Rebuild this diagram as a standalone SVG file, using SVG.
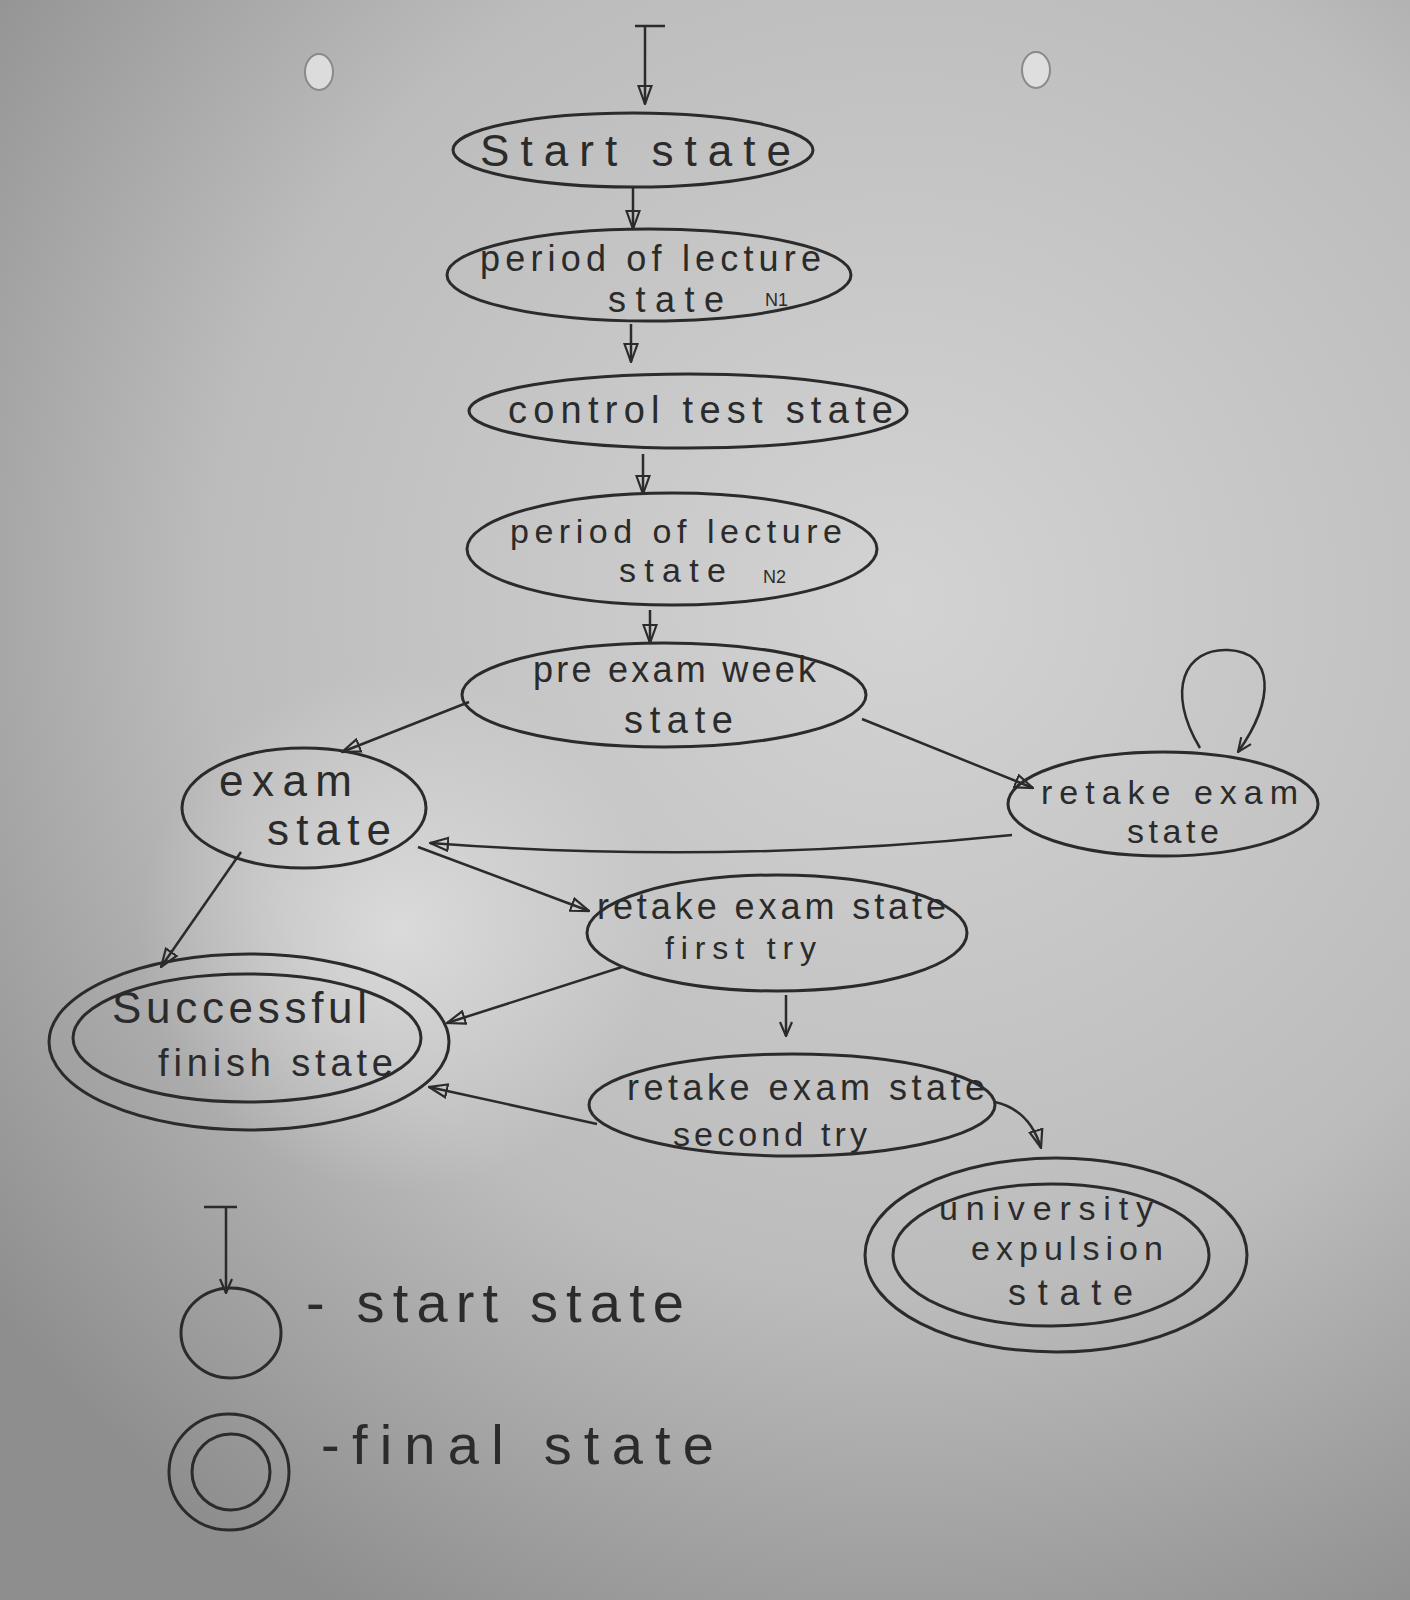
<svg xmlns="http://www.w3.org/2000/svg" width="1410" height="1600" viewBox="0 0 1410 1600">
<defs>
<radialGradient id="bg" cx="900" cy="600" r="1150" gradientUnits="userSpaceOnUse">
<stop offset="0" stop-color="#d3d3d3"/>
<stop offset="0.6" stop-color="#bcbcbc"/>
<stop offset="1" stop-color="#8e8e8e"/>
</radialGradient>
<radialGradient id="glare" cx="400" cy="930" r="260" gradientUnits="userSpaceOnUse">
<stop offset="0" stop-color="#e6e6e6" stop-opacity="0.7"/>
<stop offset="1" stop-color="#e6e6e6" stop-opacity="0"/>
</radialGradient>
<marker id="arr" viewBox="0 0 20 16" refX="19" refY="8" markerWidth="20" markerHeight="16" markerUnits="userSpaceOnUse" orient="auto">
<path d="M1,1.5 L19,8 L1,14.5 z" fill="none" stroke="#2b2b2b" stroke-width="2.2"/>
</marker>
<marker id="vee" viewBox="0 0 16 14" refX="15" refY="7" markerWidth="16" markerHeight="14" markerUnits="userSpaceOnUse" orient="auto">
<path d="M1,1 L15,7 L1,13" fill="none" stroke="#2b2b2b" stroke-width="2.2"/>
</marker>
</defs>
<style>
.st{fill:none;stroke:#2b2b2b;stroke-width:3}
.ln{fill:none;stroke:#2b2b2b;stroke-width:2.5}
.t{font-family:"Liberation Sans","DejaVu Sans",sans-serif;fill:#2b2b2b;font-size:38px}
.s{font-size:18px}
.lg{font-size:56px}
</style>
<rect x="0" y="0" width="1410" height="1600" fill="url(#bg)"/>
<rect x="0" y="0" width="1410" height="1600" fill="url(#glare)"/>
<g id="pins">
<ellipse cx="319" cy="72" rx="14" ry="18" fill="#dcdcdc" stroke="#8a8a8a" stroke-width="2"/>
<ellipse cx="1036" cy="70" rx="14" ry="18" fill="#dedede" stroke="#8a8a8a" stroke-width="2"/>
</g>

<g id="connectors">
<line class="ln" x1="635" y1="26" x2="665" y2="26"/>
<line class="ln" x1="645" y1="26" x2="645" y2="104" marker-end="url(#arr)"/>
<line class="ln" x1="633" y1="187" x2="633" y2="229" marker-end="url(#arr)"/>
<line class="ln" x1="631" y1="324" x2="631" y2="362" marker-end="url(#arr)"/>
<line class="ln" x1="643" y1="454" x2="643" y2="494" marker-end="url(#arr)"/>
<line class="ln" x1="650" y1="610" x2="650" y2="643" marker-end="url(#arr)"/>
<line class="ln" x1="469" y1="702" x2="342" y2="752" marker-end="url(#arr)"/>
<line class="ln" x1="862" y1="719" x2="1033" y2="788" marker-end="url(#arr)"/>
<path class="ln" d="M1012,835 Q720,865 430,843" marker-end="url(#arr)"/>
<path class="ln" d="M1200,748 C1165,690 1185,648 1228,650 C1275,652 1275,700 1238,752" marker-end="url(#vee)"/>
<line class="ln" x1="418" y1="847" x2="589" y2="911" marker-end="url(#arr)"/>
<line class="ln" x1="241" y1="852" x2="161" y2="967" marker-end="url(#arr)"/>
<line class="ln" x1="622" y1="967" x2="447" y2="1023" marker-end="url(#arr)"/>
<line class="ln" x1="786" y1="995" x2="786" y2="1036" marker-end="url(#vee)"/>
<line class="ln" x1="597" y1="1124" x2="429" y2="1087" marker-end="url(#arr)"/>
<path class="ln" d="M995,1102 Q1030,1110 1041,1148" marker-end="url(#arr)"/>
</g>

<g id="start-state">
<ellipse class="st" cx="633" cy="150" rx="180" ry="37"/>
<text class="t" x="480" y="166" textLength="311" lengthAdjust="spacing" style="font-size:44px">Start state</text>
</g>
<g id="lecture-n1">
<ellipse class="st" cx="649" cy="275" rx="202" ry="46"/>
<text class="t" x="480" y="271" textLength="341" lengthAdjust="spacing" style="font-size:36px">period of lecture</text>
<text class="t" x="608" y="312" textLength="116" lengthAdjust="spacing" style="font-size:36px">state</text>
<text class="t s" x="765" y="306">N1</text>
</g>
<g id="control-test">
<ellipse class="st" cx="688" cy="411" rx="219" ry="37"/>
<text class="t" x="508" y="423" textLength="385" lengthAdjust="spacing">control test state</text>
</g>
<g id="lecture-n2">
<ellipse class="st" cx="672" cy="549" rx="205" ry="56"/>
<text class="t" x="510" y="543" textLength="332" lengthAdjust="spacing" style="font-size:34px">period of lecture</text>
<text class="t" x="619" y="582" textLength="107" lengthAdjust="spacing" style="font-size:34px">state</text>
<text class="t s" x="763" y="583">N2</text>
</g>
<g id="pre-exam">
<ellipse class="st" cx="664" cy="695" rx="202" ry="52"/>
<text class="t" x="533" y="682" textLength="283" lengthAdjust="spacing" style="font-size:36px">pre exam week</text>
<text class="t" x="624" y="733" textLength="109" lengthAdjust="spacing">state</text>
</g>
<g id="exam">
<ellipse class="st" cx="304" cy="808" rx="122" ry="60"/>
<text class="t" x="219" y="796" textLength="133" lengthAdjust="spacing" style="font-size:44px">exam</text>
<text class="t" x="267" y="845" textLength="124" lengthAdjust="spacing" style="font-size:44px">state</text>
</g>
<g id="retake-exam">
<ellipse class="st" cx="1163" cy="804" rx="155" ry="52"/>
<text class="t" x="1041" y="804" textLength="257" lengthAdjust="spacing" style="font-size:34px">retake exam</text>
<text class="t" x="1127" y="843" textLength="92" lengthAdjust="spacing" style="font-size:34px">state</text>
</g>
<g id="retake-first">
<ellipse class="st" cx="777" cy="933" rx="190" ry="58"/>
<text class="t" x="597" y="919" textLength="349" lengthAdjust="spacing" style="font-size:36px">retake exam state</text>
<text class="t" x="665" y="959" textLength="151" lengthAdjust="spacing" style="font-size:32px">first try</text>
</g>
<g id="successful">
<ellipse class="st" cx="249" cy="1042" rx="200" ry="88"/>
<ellipse class="st" cx="247" cy="1038" rx="174" ry="64"/>
<text class="t" x="112" y="1023" textLength="255" lengthAdjust="spacing" style="font-size:44px">Successful</text>
<text class="t" x="158" y="1076" textLength="235" lengthAdjust="spacing">finish state</text>
</g>
<g id="retake-second">
<ellipse class="st" cx="792" cy="1105" rx="203" ry="51"/>
<text class="t" x="627" y="1100" textLength="358" lengthAdjust="spacing" style="font-size:36px">retake exam state</text>
<text class="t" x="673" y="1146" textLength="194" lengthAdjust="spacing" style="font-size:34px">second try</text>
</g>
<g id="expulsion">
<ellipse class="st" cx="1056" cy="1255" rx="191" ry="97"/>
<ellipse class="st" cx="1051" cy="1255" rx="158" ry="71"/>
<text class="t" x="939" y="1220" textLength="214" lengthAdjust="spacing" style="font-size:34px">university</text>
<text class="t" x="971" y="1260" textLength="192" lengthAdjust="spacing" style="font-size:34px">expulsion</text>
<text class="t" x="1008" y="1305" textLength="125" lengthAdjust="spacing" style="font-size:36px">state</text>
</g>
<g id="legend">
<line class="ln" x1="204" y1="1207" x2="237" y2="1207"/>
<line class="ln" x1="226" y1="1207" x2="226" y2="1293" marker-end="url(#vee)"/>
<ellipse class="st" cx="231" cy="1333" rx="50" ry="45"/>
<text class="t lg" x="306" y="1322" textLength="378" lengthAdjust="spacing">- start state</text>
<ellipse class="st" cx="229" cy="1472" rx="60" ry="58"/>
<ellipse class="st" cx="231" cy="1472" rx="39" ry="38"/>
<text class="t lg" x="321" y="1464" textLength="393" lengthAdjust="spacing">-final state</text>
</g>
</svg>
